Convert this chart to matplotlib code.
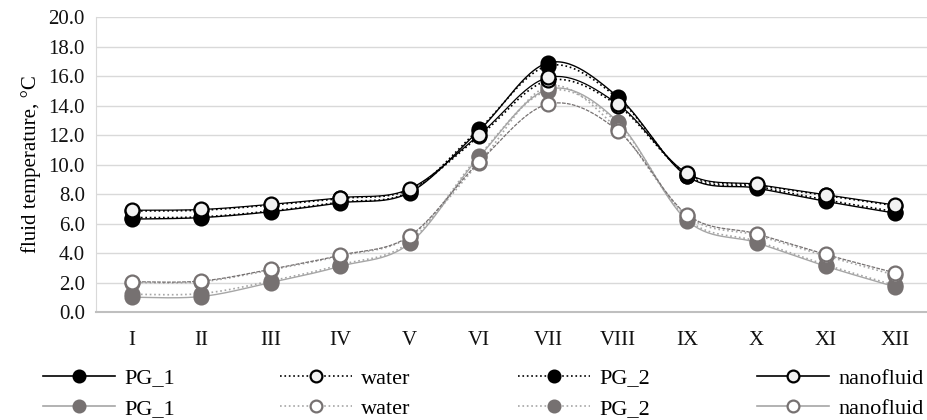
import numpy as np
import matplotlib
matplotlib.use("Agg")
import matplotlib.pyplot as plt
from matplotlib.lines import Line2D

months = ["I", "II", "III", "IV", "V", "VI", "VII", "VIII", "IX", "X", "XI", "XII"]

# black group
pg1_a = [6.3, 6.4, 6.8, 7.4, 8.1, 12.3, 16.9, 14.6, 9.2, 8.4, 7.5, 6.7]
water_a = [6.85, 6.9, 7.25, 7.7, 8.3, 11.9, 15.7, 14.0, 9.35, 8.6, 7.9, 7.2]
pg2_a = [6.4, 6.45, 6.85, 7.45, 8.15, 12.4, 16.7, 14.5, 9.25, 8.5, 7.6, 6.8]
nano_a = [6.9, 6.95, 7.3, 7.75, 8.35, 12.0, 15.9, 14.1, 9.4, 8.65, 7.95, 7.25]

# gray group
pg1_b = [1.0, 1.05, 2.0, 3.1, 4.65, 10.5, 15.1, 12.9, 6.2, 4.7, 3.1, 1.7]
water_b = [2.0, 2.05, 2.85, 3.8, 5.1, 10.1, 15.3, 12.4, 6.5, 5.2, 3.8, 2.5]
pg2_b = [1.2, 1.25, 2.1, 3.2, 4.75, 10.6, 15.0, 12.8, 6.3, 4.8, 3.2, 1.8]
nano_b = [2.05, 2.1, 2.9, 3.85, 5.15, 10.15, 14.1, 12.3, 6.6, 5.3, 3.9, 2.65]

labels = ["PG_1", "water", "PG_2", "nanofluid"]

plt.rcParams['font.family'] = ['Liberation Serif', 'DejaVu Serif']

def smooth(y, n=30):
    y = np.asarray(y, float)
    x = np.arange(len(y), dtype=float)
    xs, ys = [], []
    m = len(y)
    for i in range(m - 1):
        p0x, p0y = x[i], y[i]
        p3x, p3y = x[i + 1], y[i + 1]
        pmx, pmy = (x[i - 1], y[i - 1]) if i > 0 else (x[i], y[i])
        ppx, ppy = (x[i + 2], y[i + 2]) if i + 2 < m else (x[i + 1], y[i + 1])
        c1x = p0x + (p3x - pmx) / 6; c1y = p0y + (p3y - pmy) / 6
        c2x = p3x - (ppx - p0x) / 6; c2y = p3y - (ppy - p0y) / 6
        t = np.linspace(0, 1, n, endpoint=(i == m - 2))
        bx = (1-t)**3*p0x + 3*(1-t)**2*t*c1x + 3*(1-t)*t**2*c2x + t**3*p3x
        by = (1-t)**3*p0y + 3*(1-t)**2*t*c1y + 3*(1-t)*t**2*c2y + t**3*p3y
        xs.append(bx); ys.append(by)
    return np.concatenate(xs), np.concatenate(ys)

fig = plt.figure(figsize=(9.27, 4.2), dpi=100)
ax = fig.add_axes([96/927, 1-312/420, (930-96)/927, (312-17)/420])

BLACK = "#000000"
DGRAY = "#767171"
LGRAY = "#a6a6a6"
OPENFILL = "#f2f2f2"

ms = 10
mew = 1.6
x = np.arange(len(months))

specs = [
    # data, line color, linestyle, marker face, marker edge, lw
    (pg1_b, LGRAY, '-', DGRAY, DGRAY, 1.0),
    (pg2_b, LGRAY, ':', DGRAY, DGRAY, 1.2),
    (water_b, LGRAY, ':', "white", DGRAY, 1.2),
    (nano_b, DGRAY, (0, (3, 1)), "white", DGRAY, 0.9),
    (pg1_a, BLACK, '-', BLACK, BLACK, 1.0),
    (pg2_a, BLACK, ':', BLACK, BLACK, 1.2),
    (water_a, BLACK, ':', OPENFILL, BLACK, 1.2),
    (nano_a, BLACK, '-', OPENFILL, BLACK, 0.9),
]
for data, lc, ls, mf, me, lw in specs:
    sx, sy = smooth(data)
    ax.plot(sx, sy, color=lc, linestyle=ls, linewidth=lw, zorder=2)
    ax.plot(x, data, linestyle='none', marker='o', markersize=ms,
            markerfacecolor=mf, markeredgecolor=me, markeredgewidth=mew, zorder=3)

ax.set_xlim(-0.52, 11.5)
ax.set_ylim(0, 20)
ax.set_yticks(np.arange(0, 20.1, 2))
ax.set_yticklabels([f"{v:.1f}" for v in np.arange(0, 20.1, 2)])
ax.set_xticks(x)
ax.set_xticklabels(months)
ax.tick_params(axis='both', length=0, labelsize=15, colors='#111111')
ax.tick_params(axis='x', pad=14)
ax.tick_params(axis='y', pad=8)
ax.grid(axis='y', color='#d9d9d9', linewidth=1.0)
ax.set_axisbelow(True)
for s in ['top', 'right']:
    ax.spines[s].set_visible(False)
ax.spines['left'].set_color('#d9d9d9')
ax.spines['bottom'].set_color('#bfbfbf')
ax.spines['bottom'].set_linewidth(1.5)
ax.set_ylabel("fluid temperature, °C", fontsize=15, labelpad=5)

# legends
leg_specs_a = [(BLACK, '-', BLACK, BLACK), (BLACK, ':', OPENFILL, BLACK),
               (BLACK, ':', BLACK, BLACK), (BLACK, '-', OPENFILL, BLACK)]
leg_specs_b = [(LGRAY, '-', DGRAY, DGRAY), (LGRAY, ':', "white", DGRAY),
               (LGRAY, ':', DGRAY, DGRAY), (LGRAY, '-', "white", DGRAY)]
col_x = [43, 280, 518, 757]
for i in range(4):
    hs = []
    for sp in (leg_specs_a[i], leg_specs_b[i]):
        lc, ls, mf, me = sp
        hs.append(Line2D([0], [0], color=lc, linestyle=ls, linewidth=1.2,
                         marker='o', markersize=8.5, markerfacecolor=mf,
                         markeredgecolor=me, markeredgewidth=1.6))
    fig.legend(hs, [labels[i], labels[i]], loc='upper left',
               bbox_to_anchor=(col_x[i]/927, 1-368/420), frameon=False,
               fontsize=16, handlelength=3.25, handletextpad=0.4,
               borderaxespad=0, borderpad=0, labelspacing=0.45)

fig.savefig("out.png", dpi=100)
